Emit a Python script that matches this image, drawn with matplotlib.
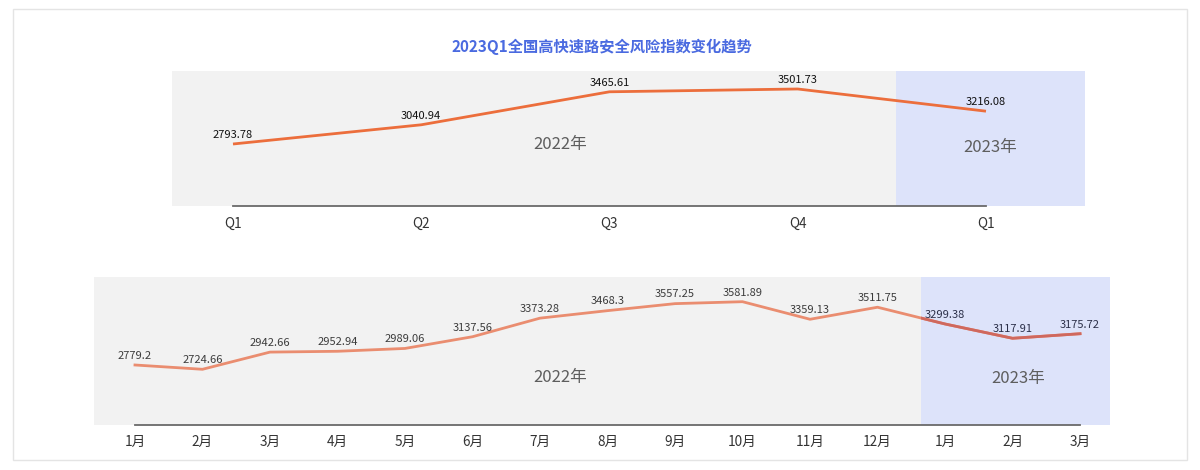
import matplotlib
matplotlib.use("Agg")
import matplotlib.pyplot as plt
from matplotlib.patches import Rectangle

plt.rcParams['font.family'] = ['Noto Sans CJK SC', 'DejaVu Sans']

# ---- data ----
title = "2023Q1全国高快速路安全风险指数变化趋势"
q_labels = ["Q1", "Q2", "Q3", "Q4", "Q1"]
q_values = [2793.78, 3040.94, 3465.61, 3501.73, 3216.08]
m_labels = ["1月", "2月", "3月", "4月", "5月", "6月", "7月", "8月", "9月",
            "10月", "11月", "12月", "1月", "2月", "3月"]
m_values = [2779.2, 2724.66, 2942.66, 2952.94, 2989.06, 3137.56, 3373.28,
            3468.3, 3557.25, 3581.89, 3359.13, 3511.75, 3299.38, 3117.91, 3175.72]
year_labels = ["2022年", "2023年"]

W, H = 1200, 470
fig = plt.figure(figsize=(W / 100, H / 100), dpi=100)

def px_axes(x0, x1, ytop, ybot):
    return fig.add_axes([x0 / W, 1 - ybot / H, (x1 - x0) / W, (ybot - ytop) / H])

# outer frame
fig.patches.append(Rectangle((13 / W, 1 - 460 / H), (1187 - 13) / W, (460 - 9) / H,
                             transform=fig.transFigure, fill=False,
                             edgecolor="#e4e4e4", linewidth=1.0))

fig.text(602 / W, 1 - 46.5 / H, title, ha="center", va="center",
         fontsize=11, fontweight="bold", color="#4a6ae0")

GRAY = "#f2f2f2"
BLUE = "#dde3fa"

def style_axes(ax, n, labels):
    ax.set_facecolor(GRAY)
    for s in ["top", "right", "left"]:
        ax.spines[s].set_visible(False)
    ax.spines["bottom"].set_color("#6a6a6a")
    ax.spines["bottom"].set_linewidth(1.3)
    ax.spines["bottom"].set_bounds(0, n - 1)
    ax.set_yticks([])
    ax.set_xticks(range(n))
    ax.set_xticklabels(labels, fontsize=9.8, color="#333333")
    ax.tick_params(axis="x", length=0, pad=7.5)

# ---- top chart ----
ax1 = px_axes(172, 1085, 70.7, 206)
n1 = len(q_values)
ax1.set_xlim(-0.324, 4.526)
ax1.set_ylim(1996, 3737)
style_axes(ax1, n1, q_labels)
ax1.axvspan(3.52, 4.526, color=BLUE, lw=0, zorder=0.5)
ax1.plot(range(n1), q_values, color="#ec6e3c", lw=2.0, solid_capstyle="butt", zorder=2)
for i, v in enumerate(q_values):
    ax1.annotate(f"{v:g}", (i, v), xytext=(0, 3), textcoords="offset points",
                 ha="center", va="bottom", fontsize=8, color="#111111")
ax1.text(560 / W, 1 - 144 / H, year_labels[0], transform=fig.transFigure,
         ha="center", va="center", fontsize=12, color="#5e5e5e")
ax1.text(990 / W, 1 - 147.5 / H, year_labels[1], transform=fig.transFigure,
         ha="center", va="center", fontsize=12, color="#5e5e5e")

# ---- bottom chart ----
ax2 = px_axes(94, 1110, 276.7, 425)
n2 = len(m_values)
ax2.set_xlim(-0.607, 14.444)
ax2.set_ylim(2018, 3899)
style_axes(ax2, n2, m_labels)
span = ax2.axvspan(11.64, 14.444, color=BLUE, lw=0, zorder=0.5)
ax2.plot(range(n2), m_values, color="#ea8d70", lw=2.0, zorder=2)
dark = ax2.plot(range(n2), m_values, color="#cf685e", lw=2.0, zorder=2.1)[0]
dark.set_clip_path(span)
for i, v in enumerate(m_values):
    col = "#2b2f48" if i >= 12 else "#3c3c3c"
    ax2.annotate(f"{v:g}", (i, v), xytext=(0, 3), textcoords="offset points",
                 ha="center", va="bottom", fontsize=8, color=col)
ax2.text(560 / W, 1 - 377.7 / H, year_labels[0], transform=fig.transFigure,
         ha="center", va="center", fontsize=12, color="#5e5e5e")
ax2.text(1018 / W, 1 - 378 / H, year_labels[1], transform=fig.transFigure,
         ha="center", va="center", fontsize=12, color="#5e5e5e")

fig.savefig("out.png", dpi=100, facecolor="white")
